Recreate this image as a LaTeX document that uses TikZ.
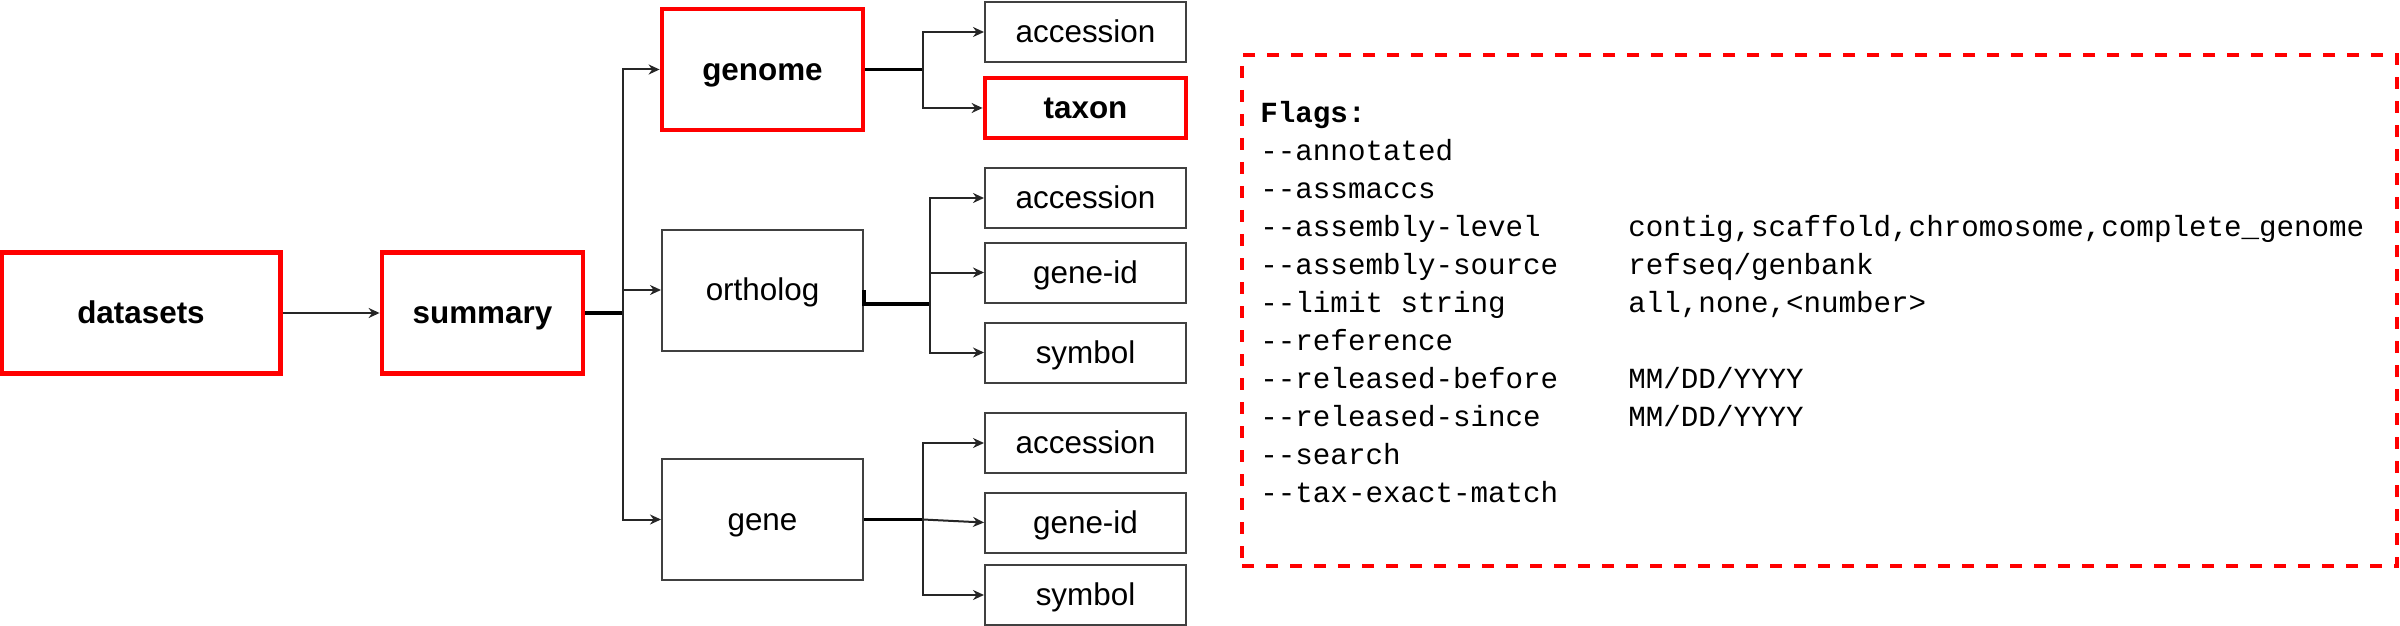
\documentclass[tikz,border=0pt]{standalone}
\usepackage{fontspec}
\setmainfont{Liberation Sans}
\setmonofont{Liberation Mono}
\usetikzlibrary{positioning,arrows.meta}

\tikzset{
    box/.style={draw=black!75, line width=1pt, rectangle, inner sep=0pt,
        minimum width=100.5pt, minimum height=30pt,
        text height=14.2pt, text depth=3.3pt,
        font=\fontsize{15.7}{18}\selectfont},
    redbox/.style={box, draw=red, line width=2.4pt,
        font=\fontsize{15.7}{18}\selectfont\bfseries},
    bigbox/.style={minimum height=60.5pt},
    link/.style={draw=black!85, line width=1pt, -{Stealth[length=5.5pt,width=5pt]}},
    trunk/.style={draw=black, line width=1.7pt},
    flagtext/.style={inner sep=0pt, anchor=base west,
        font=\ttfamily\fontsize{14.6}{17}\selectfont},
    flagframe/.style={draw=red, line width=1.8pt, dash pattern=on 6pt off 6pt,
        minimum width=577.5pt, minimum height=255.5pt, inner sep=0pt},
}

\begin{document}
\begin{tikzpicture}[x=0.5pt, y=-0.5pt]
    \useasboundingbox (0,0) rectangle (2400,626);

    \node[redbox, bigbox, minimum width=139.5pt] (datasets) at (141,313) {datasets};
    \node[redbox, bigbox] (summary) at (482.5,313) {summary};

    \node[redbox, bigbox] (genome) at (762.5,69.5) {genome};
    \node[box, bigbox] (ortholog) at (762.5,290) {ortholog};
    \node[box, bigbox] (gene) at (762.5,519.5) {gene};

    \node[box] (genacc) at (1085.5,32) {accession};
    \node[redbox] (taxon) at (1085.5,108) {taxon};
    \node[box] (orthacc) at (1085.5,198) {accession};
    \node[box] (orthid) at (1085.5,272.5) {gene-id};
    \node[box] (orthsym) at (1085.5,352.5) {symbol};
    \node[box] (geneacc) at (1085.5,443) {accession};
    \node[box] (geneid) at (1085.5,522.5) {gene-id};
    \node[box] (genesym) at (1085.5,595) {symbol};

    \coordinate (sumfork) at (623,313);
    \coordinate (genfork) at (923,69.5);
    \coordinate (orthfork) at (930,304);
    \coordinate (genefork) at (923,519.5);

    \draw[link] (datasets) -- (summary);

    % summary splits into the three subcommands
    \draw[trunk] (summary.east) -- (sumfork);
    \draw[link] (sumfork) |- (genome.west);
    \draw[link] (sumfork) |- (ortholog.west);
    \draw[link] (sumfork) |- (gene.west);

    \draw[trunk] (genome.east) -- (genfork);
    \draw[link] (genfork) |- (genacc.west);
    \draw[link] (genfork) |- (taxon.west);

    \draw[trunk] (ortholog.east) |- (orthfork);
    \draw[link] (orthfork) |- (orthacc.west);
    \draw[link] (orthfork) |- (orthid.west);
    \draw[link] (orthfork) |- (orthsym.west);

    \draw[trunk] (gene.east) -- (genefork);
    \draw[link] (genefork) |- (geneacc.west);
    \draw[link] (genefork) -- (geneid.west);
    \draw[link] (genefork) |- (genesym.west);

    % flags
    \node[flagframe] (flags) at (1819.5,310.5) {};
    \node[flagtext, font=\ttfamily\bfseries\fontsize{14.6}{17}\selectfont] (flagshead) at (1260,122.5) {Flags:};
    \foreach \fname [count=\i] in {--annotated, --assmaccs, --assembly-level,
        --assembly-source, --limit string, --reference, --released-before,
        --released-since, --search, --tax-exact-match}
        \node[flagtext] (fname\i) at (1260,122.5+38*\i) {\fname};
    \foreach \i/\fval in {3/{contig,scaffold,chromosome,complete\_genome},
        4/{refseq/genbank}, 5/{all,none,<number>}, 7/{MM/DD/YYYY}, 8/{MM/DD/YYYY}}
        \node[flagtext] (fval\i) at (1628,122.5+38*\i) {\fval};
\end{tikzpicture}
\end{document}
